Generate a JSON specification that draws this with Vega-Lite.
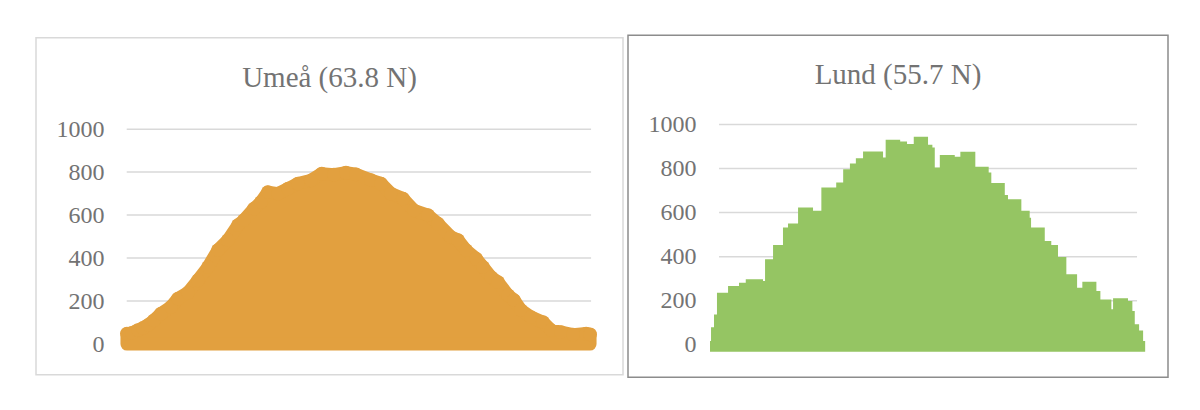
{
  "$schema": "https://vega.github.io/schema/vega-lite/v6.json",
  "background": "white",
  "padding": {"left": 35, "top": 34, "right": 0, "bottom": 0},
  "spacing": 3,
  "center": true,
  "datasets": {
    "grid": [{"g": 0}, {"g": 200}, {"g": 400}, {"g": 600}, {"g": 800}, {"g": 1000}],
    "umea": [
      {"day": 1, "w": 49}, {"day": 4.9, "w": 52}, {"day": 9.6, "w": 65}, {"day": 13.6, "w": 75},
      {"day": 17.5, "w": 88}, {"day": 22.2, "w": 110}, {"day": 27.7, "w": 142}, {"day": 35.6, "w": 173},
      {"day": 41.1, "w": 212}, {"day": 49, "w": 240}, {"day": 56.8, "w": 297}, {"day": 64.7, "w": 358},
      {"day": 72.5, "w": 437}, {"day": 80.4, "w": 484}, {"day": 88.3, "w": 553}, {"day": 93, "w": 577},
      {"day": 100.8, "w": 630}, {"day": 106.3, "w": 660}, {"day": 111.8, "w": 707}, {"day": 119.7, "w": 700},
      {"day": 127.6, "w": 723}, {"day": 135.4, "w": 747}, {"day": 145.7, "w": 762}, {"day": 154.1, "w": 793},
      {"day": 163.7, "w": 788}, {"day": 173.1, "w": 798}, {"day": 181, "w": 790}, {"day": 192.8, "w": 763},
      {"day": 200.7, "w": 747}, {"day": 208.5, "w": 700}, {"day": 218, "w": 677}, {"day": 226.6, "w": 622},
      {"day": 237.6, "w": 600}, {"day": 245.5, "w": 560}, {"day": 255.7, "w": 498}, {"day": 261.2, "w": 484},
      {"day": 267.5, "w": 437}, {"day": 275.4, "w": 398}, {"day": 280.9, "w": 358}, {"day": 287.2, "w": 312},
      {"day": 292.7, "w": 288}, {"day": 300.5, "w": 228}, {"day": 305.2, "w": 205}, {"day": 310.7, "w": 158},
      {"day": 318.6, "w": 126}, {"day": 328, "w": 102}, {"day": 334.3, "w": 65}, {"day": 342.2, "w": 56},
      {"day": 351.6, "w": 44}, {"day": 361.9, "w": 49}, {"day": 365, "w": 45}
    ],
    "lund": [
      {"day": -7.9, "w": 17}, {"day": -7.0, "w": 80}, {"day": -4.4, "w": 138}, {"day": -1.8, "w": 236},
      {"day": 7.9, "w": 267}, {"day": 17.5, "w": 282}, {"day": 23.4, "w": 297}, {"day": 38.5, "w": 290},
      {"day": 40.3, "w": 388}, {"day": 47.3, "w": 453}, {"day": 56, "w": 532}, {"day": 60.4, "w": 550},
      {"day": 69.2, "w": 623}, {"day": 82.3, "w": 608}, {"day": 89.6, "w": 714}, {"day": 102.6, "w": 736},
      {"day": 108.7, "w": 797}, {"day": 114.6, "w": 823}, {"day": 119.8, "w": 847}, {"day": 126.1, "w": 877},
      {"day": 143.6, "w": 850}, {"day": 145.9, "w": 930}, {"day": 158.6, "w": 923}, {"day": 164.6, "w": 911},
      {"day": 170.5, "w": 944}, {"day": 183, "w": 908}, {"day": 186.8, "w": 895}, {"day": 188.9, "w": 805},
      {"day": 193.3, "w": 861}, {"day": 206.4, "w": 853}, {"day": 211.3, "w": 876}, {"day": 224.4, "w": 808},
      {"day": 236.1, "w": 782}, {"day": 238.4, "w": 734}, {"day": 250.2, "w": 680}, {"day": 253, "w": 661},
      {"day": 264.7, "w": 608}, {"day": 272, "w": 577}, {"day": 273.2, "w": 532}, {"day": 285.2, "w": 471},
      {"day": 290.9, "w": 453}, {"day": 296.8, "w": 399}, {"day": 304.1, "w": 320}, {"day": 313.5, "w": 259},
      {"day": 318.1, "w": 286}, {"day": 330.4, "w": 244}, {"day": 333.9, "w": 206}, {"day": 343.5, "w": 161},
      {"day": 345, "w": 211}, {"day": 358.1, "w": 199}, {"day": 361.9, "w": 153}, {"day": 364, "w": 93},
      {"day": 367.8, "w": 65}, {"day": 371.3, "w": 17}, {"day": 373.1, "w": 17}
    ]
  },
  "hconcat": [
    {
      "width": 587,
      "height": 337,
      "view": {"stroke": "#d9d9d9", "strokeWidth": 1.5},
      "title": {
        "text": "Umeå (63.8 N)",
        "font": "Liberation Serif",
        "fontSize": 29,
        "fontWeight": "normal",
        "color": "#737373",
        "anchor": "middle",
        "baseline": "alphabetic",
        "offset": -78
      },
      "layer": [
        {
          "data": {"name": "grid"},
          "mark": {"type": "rule", "color": "#d9d9d9", "strokeWidth": 1.5},
          "encoding": {
            "x": {"datum": 0.8, "type": "quantitative", "axis": null,
                  "scale": {"domain": [-70.5, 390.9], "nice": false, "zero": false}},
            "x2": {"datum": 365.8},
            "y": {
              "field": "g", "type": "quantitative",
              "scale": {"domain": [-141.9, 1425.6], "nice": false, "zero": false},
              "axis": {
                "values": [0, 200, 400, 600, 800, 1000], "format": "d", "title": null, "domain": false,
                "ticks": false, "grid": false, "offset": -68, "labelPadding": 0,
                "labelFont": "Liberation Serif", "labelFontSize": 24, "labelColor": "#737373"
              }
            }
          }
        },
        {
          "data": {"name": "umea"},
          "mark": {
            "type": "area", "color": "#e2a03f", "stroke": "#e2a03f",
            "strokeWidth": 13, "strokeJoin": "round", "strokeCap": "round"
          },
          "encoding": {
            "x": {"field": "day", "type": "quantitative"},
            "y": {"field": "w", "type": "quantitative"},
            "y2": {"datum": 0}
          }
        },
        {
          "data": {"name": "umea"},
          "mark": {"type": "circle", "color": "#e2a03f", "opacity": 1, "size": 190},
          "encoding": {
            "x": {"field": "day", "type": "quantitative"},
            "y": {"field": "w", "type": "quantitative"}
          }
        }
      ]
    },
    {
      "width": 540,
      "height": 342,
      "view": {"stroke": "#8c8c8c", "strokeWidth": 1.5},
      "title": {
        "text": "Lund (55.7 N)",
        "font": "Liberation Serif",
        "fontSize": 29,
        "fontWeight": "normal",
        "color": "#737373",
        "anchor": "middle",
        "baseline": "alphabetic",
        "offset": -78
      },
      "layer": [
        {
          "data": {"name": "grid"},
          "mark": {"type": "rule", "color": "#d9d9d9", "strokeWidth": 1.5},
          "encoding": {
            "x": {"datum": 0, "type": "quantitative", "axis": null,
                  "scale": {"domain": [-79.7, 393.1], "nice": false, "zero": false}},
            "x2": {"datum": 366},
            "y": {
              "field": "g", "type": "quantitative",
              "scale": {"domain": [-146.6, 1405.2], "nice": false, "zero": false},
              "axis": {
                "values": [0, 200, 400, 600, 800, 1000], "format": "d", "title": null, "domain": false,
                "ticks": false, "grid": false, "offset": -68, "labelPadding": 0,
                "labelFont": "Liberation Serif", "labelFontSize": 24, "labelColor": "#737373"
              }
            }
          }
        },
        {
          "data": {"name": "lund"},
          "mark": {"type": "area", "color": "#95c563", "interpolate": "step-after"},
          "encoding": {
            "x": {"field": "day", "type": "quantitative"},
            "y": {"field": "w", "type": "quantitative"},
            "y2": {"datum": -32}
          }
        }
      ]
    }
  ]
}
